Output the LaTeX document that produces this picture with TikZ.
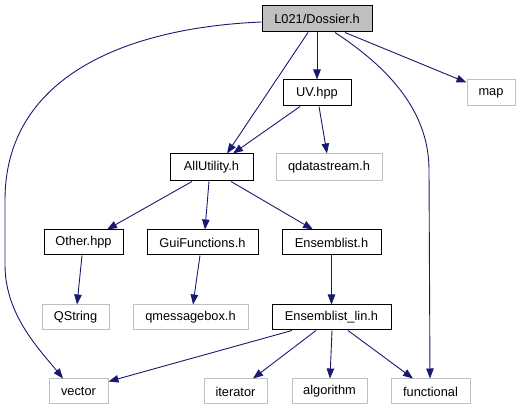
\documentclass[tikz,border=0pt]{standalone}
\usepackage{fontspec}
\setmainfont{Liberation Sans}
\usetikzlibrary{arrows.meta}
\definecolor{edgec}{HTML}{191970}
\definecolor{extc}{HTML}{BFBFBF}
\tikzset{
  box/.style={draw=black, line width=1pt, inner sep=0pt, minimum height=25pt, font=\fontsize{12.8}{15}\selectfont},
  extbox/.style={box, draw=extc},
  mainbox/.style={box, fill=extc},
  dep/.style={draw=edgec, line width=0.9pt, -{Triangle[length=10pt,width=7.5pt]}},
}
\begin{document}
\begin{tikzpicture}[x=1pt,y=-1pt]
\useasboundingbox (0,0) rectangle (520,411);
\node[mainbox, minimum width=110pt, minimum height=26pt] (dos) at (317,19) {L021/Dossier.h};
\node[box, minimum width=68pt, minimum height=26pt] (uv) at (317,93) {UV.hpp};
\node[extbox, minimum width=48pt, minimum height=26pt] (map) at (491,93) {map};
\node[box, minimum width=83pt, minimum height=27pt] (all) at (211.5,167.5) {AllUtility.h};
\node[extbox, minimum width=106pt, minimum height=27pt] (qds) at (329,167.5) {qdatastream.h};
\node[box, minimum width=79pt] (oth) at (83.5,242.5) {Other.hpp};
\node[box, minimum width=111pt] (gui) at (202.5,242.5) {GuiFunctions.h};
\node[box, minimum width=99pt] (ens) at (331.5,242.5) {Ensemblist.h};
\node[extbox, minimum width=67pt] (qstr) at (75.5,317.5) {QString};
\node[extbox, minimum width=115pt] (qmb) at (190.5,317.5) {qmessagebox.h};
\node[box, minimum width=119pt] (enl) at (331.5,317.5) {Ensemblist\_lin.h};
\node[extbox, minimum width=59pt] (vec) at (78.5,391.5) {vector};
\node[extbox, minimum width=63pt] (ite) at (235.5,391.5) {iterator};
\node[extbox, minimum width=75pt] (alg) at (329.5,391.5) {algorithm};
\node[extbox, minimum width=79pt] (fun) at (430.5,391.5) {functional};

\draw[dep] ([xshift=-9pt]dos.south) -- ([xshift=15.5pt]all.north);
\draw[dep] (dos.south) -- (uv.north);
\draw[dep] ([xshift=28pt]dos.south) -- ([yshift=-3pt]map.north west);
\draw[dep] ([yshift=-3pt]dos.west) .. controls (120,28) and (5,80) .. (5,200)
  -- (5,265) .. controls (5,315) and (40,350) .. ([xshift=-15.5pt]vec.north);
\draw[dep] ([xshift=18pt]dos.south) .. controls (400,75) and (429,120) .. (429,170)
  -- ([xshift=-0.5pt]fun.north);
\draw[dep] ([xshift=-17pt]uv.south) -- ([xshift=21.5pt]all.north);
\draw[dep] ([xshift=2pt]uv.south) -- ([xshift=-2pt]qds.north);
\draw[dep] ([xshift=-19.5pt]all.south) -- ([xshift=23.5pt]oth.north);
\draw[dep] ([xshift=-2.5pt]all.south) -- ([xshift=2.5pt]gui.north);
\draw[dep] ([xshift=19.5pt]all.south) -- ([xshift=-18.5pt]ens.north);
\draw[dep] ([xshift=-1.5pt]oth.south) -- ([xshift=1.5pt]qstr.north);
\draw[dep] ([xshift=-2.5pt]gui.south) -- ([xshift=2.5pt]qmb.north);
\draw[dep] (ens.south) -- (enl.north);
\draw[dep] ([xshift=-39.5pt]enl.south) -- ([yshift=-3pt]vec.north east);
\draw[dep] ([xshift=-15.5pt]enl.south) -- ([xshift=17.5pt]ite.north);
\draw[dep] ([xshift=0.5pt]enl.south) -- ([xshift=0.5pt]alg.north);
\draw[dep] ([xshift=16.5pt]enl.south) -- ([xshift=-17.5pt]fun.north);
\end{tikzpicture}
\end{document}
